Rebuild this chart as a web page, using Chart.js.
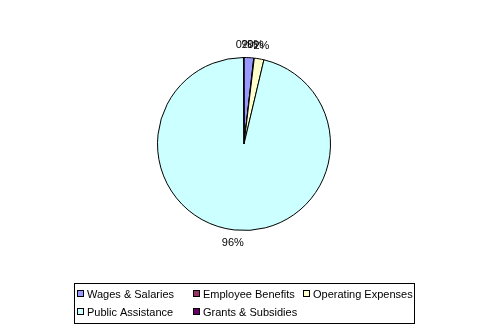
<!DOCTYPE html>
<html>
<head>
<meta charset="utf-8">
<script src="https://cdn.jsdelivr.net/npm/chart.js@4/dist/chart.umd.min.js"></script>
<style>
  html, body { margin: 0; padding: 0; background: #fff; }
  canvas { display: block; }
</style>
</head>
<body>
<canvas id="chart-pie" width="491" height="333"></canvas>
<script>
const categories = ['Wages & Salaries', 'Employee Benefits', 'Operating Expenses', 'Public Assistance', 'Grants & Subsidies'];
const values = [1.8, 0.1, 1.8, 96.2, 0.1];
const colors = ['#9999FF', '#993366', '#FFFFCC', '#CCFFFF', '#660066'];

const font = '11px "Liberation Sans", Arial, sans-serif';

// percent labels outside the slices
const outLabels = {
    id: 'outLabels',
    afterDatasetsDraw(chart) {
        const ctx = chart.ctx;
        const meta = chart.getDatasetMeta(0);
        const total = values.reduce((a, b) => a + b, 0);
        ctx.save();
        ctx.font = font;
        ctx.fillStyle = '#000';
        ctx.textAlign = 'center';
        ctx.textBaseline = 'middle';
        meta.data.forEach((arc, i) => {
            const mid = (arc.startAngle + arc.endAngle) / 2;
            const r = arc.outerRadius + 13;
            const x = arc.x + Math.cos(mid) * r;
            const y = arc.y + Math.sin(mid) * r;
            ctx.fillText(Math.round(values[i] / total * 100) + '%', x, y);
        });
        ctx.restore();
    }
};

// boxed legend, 3 columns
const boxLegend = {
    id: 'boxLegend',
    afterDraw(chart) {
        const ctx = chart.ctx;
        const cols = [77, 193, 303];
        const rows = [294, 312];
        ctx.save();
        ctx.strokeStyle = '#000';
        ctx.lineWidth = 1;
        ctx.strokeRect(74.5, 283.5, 340, 40);
        ctx.font = font;
        ctx.textBaseline = 'middle';
        ctx.fillStyle = '#000';
        categories.forEach((name, i) => {
            const x = cols[i % 3];
            const y = rows[Math.floor(i / 3)];
            ctx.fillStyle = colors[i];
            ctx.fillRect(x, y - 4, 7, 7);
            ctx.strokeRect(x + 0.5, y - 3.5, 6, 6);
            ctx.fillStyle = '#000';
            ctx.fillText(name, x + 10, y + 1);
        });
        ctx.restore();
    }
};

new Chart(document.getElementById('chart-pie').getContext('2d'), {
    type: 'pie',
    data: {
        labels: categories,
        datasets: [{
            data: values,
            backgroundColor: colors,
            borderColor: '#000',
            borderWidth: 1
        }]
    },
    options: {
        responsive: false,
        animation: false,
        layout: { padding: { top: 57, bottom: 102, left: 157, right: 160 } },
        plugins: {
            legend: { display: false },
            tooltip: { enabled: false }
        }
    },
    plugins: [outLabels, boxLegend]
});
</script>
</body>
</html>
